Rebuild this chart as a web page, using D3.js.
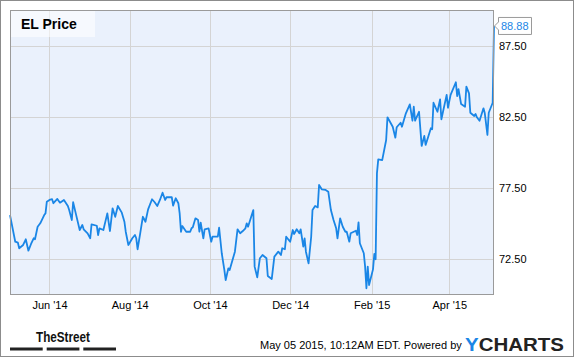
<!DOCTYPE html>
<html>
<head>
<meta charset="utf-8">
<script src="https://cdn.jsdelivr.net/npm/d3@7"></script>
<style>
  body { margin: 0; background: #fff; }
  text { font-family: Arial, "Liberation Sans", sans-serif; }
</style>
</head>
<body>
<svg id="chart" width="575" height="358"></svg>
<script>
// EL daily price
var dates = ["2014-05-02","2014-05-06","2014-05-08","2014-05-09","2014-05-12","2014-05-14","2014-05-16","2014-05-18","2014-05-20","2014-05-21",
  "2014-05-23","2014-05-25","2014-05-28","2014-05-29","2014-05-30","2014-06-01","2014-06-03","2014-06-04","2014-06-07","2014-06-09",
  "2014-06-12","2014-06-15","2014-06-16","2014-06-18","2014-06-19","2014-06-21","2014-06-24","2014-06-26","2014-06-27","2014-06-30",
  "2014-07-02","2014-07-03","2014-07-07","2014-07-08","2014-07-09","2014-07-12","2014-07-15","2014-07-17","2014-07-19","2014-07-21",
  "2014-07-23","2014-07-26","2014-07-28","2014-07-29","2014-07-31","2014-08-03","2014-08-05","2014-08-06","2014-08-07","2014-08-09",
  "2014-08-11","2014-08-13","2014-08-15","2014-08-18","2014-08-20","2014-08-22","2014-08-24","2014-08-26","2014-08-28","2014-08-29",
  "2014-09-02","2014-09-03","2014-09-05","2014-09-07","2014-09-08","2014-09-09","2014-09-10","2014-09-13","2014-09-16","2014-09-17",
  "2014-09-18","2014-09-20","2014-09-22","2014-09-23","2014-09-24","2014-09-26","2014-09-27","2014-09-30","2014-10-02","2014-10-03",
  "2014-10-07","2014-10-08","2014-10-10","2014-10-12","2014-10-13","2014-10-15","2014-10-16","2014-10-20","2014-10-22","2014-10-24",
  "2014-10-26","2014-10-28","2014-10-29","2014-10-30","2014-11-03","2014-11-04","2014-11-06","2014-11-08","2014-11-10","2014-11-13",
  "2014-11-14","2014-11-17","2014-11-19","2014-11-22","2014-11-24","2014-11-25","2014-11-27","2014-11-28","2014-12-01","2014-12-03",
  "2014-12-04","2014-12-06","2014-12-08","2014-12-09","2014-12-11","2014-12-12","2014-12-13","2014-12-15","2014-12-17","2014-12-18",
  "2014-12-20","2014-12-22","2014-12-23","2014-12-25","2014-12-28","2014-12-30","2015-01-01","2015-01-03","2015-01-05","2015-01-06",
  "2015-01-08","2015-01-10","2015-01-12","2015-01-13","2015-01-15","2015-01-16","2015-01-20","2015-01-21","2015-01-22","2015-01-23",
  "2015-01-26","2015-01-27","2015-01-28","2015-01-29","2015-01-30","2015-02-02","2015-02-03","2015-02-04","2015-02-05","2015-02-06",
  "2015-02-09","2015-02-12","2015-02-13","2015-02-17","2015-02-19","2015-02-20","2015-02-23","2015-02-24","2015-02-27","2015-03-02",
  "2015-03-04","2015-03-05","2015-03-06","2015-03-09","2015-03-11","2015-03-13","2015-03-14","2015-03-16","2015-03-18","2015-03-19",
  "2015-03-20","2015-03-23","2015-03-25","2015-03-26","2015-03-30","2015-03-31","2015-04-02","2015-04-06","2015-04-07","2015-04-08",
  "2015-04-10","2015-04-13","2015-04-14","2015-04-16","2015-04-17","2015-04-20","2015-04-21","2015-04-22","2015-04-24","2015-04-27",
  "2015-04-28","2015-04-30","2015-05-01","2015-05-04","2015-05-05"];
var prices = [75.61,73.74,73.67,73.28,73.51,73.91,73.11,73.58,73.98,73.91,
  74.79,75.03,75.61,75.73,76.55,76.67,76.72,76.44,76.74,76.48,
  76.67,76.25,75.96,75.26,76.51,75.73,74.56,74.91,74.61,74.33,
  73.98,74.96,74.86,74.21,74.68,74.56,75.73,74.49,76.08,75.49,
  76.25,75.78,75.14,74.44,73.51,73.98,74.21,73.98,73.21,74.33,
  75.49,75.14,76.01,76.72,76.51,76.25,76.67,77.18,76.67,76.86,
  76.86,76.27,76.79,76.44,75.73,74.44,74.84,74.44,74.44,74.68,
  74.75,75.38,75.26,74.44,75.07,73.98,74.61,74.68,73.74,74.09,
  74.09,74.72,72.93,71.75,71.05,71.87,71.75,73.04,74.61,74.33,
  74.49,74.68,75.03,74.79,75.96,71.99,71.24,72.58,72.81,72.58,
  71.33,71.12,72.69,73.04,72.81,73.28,73.21,74.09,73.74,74.56,
  74.28,74.61,74.33,74.61,73.39,73.98,73.04,72.22,74.09,75.96,
  76.25,76.15,77.72,77.42,77.37,77.25,75.96,75.26,74.68,73.98,
  75.38,74.79,74.44,74.44,73.74,74.33,74.51,74.21,75.10,73.63,
  72.93,71.99,70.47,71.99,70.70,71.80,72.88,72.51,78.54,79.52,
  79.47,80.88,82.47,81.81,81.04,81.77,82.09,81.81,82.75,83.38,
  82.23,83.21,82.23,82.86,80.46,81.16,80.53,81.11,81.70,81.63,
  83.49,82.86,83.73,82.33,84.04,83.14,84.04,84.93,83.96,84.44,
  83.40,83.21,84.62,84.15,82.79,82.56,82.70,82.47,82.23,83.10,
  82.75,81.23,82.79,83.49,88.88];

var yTicks = [72.5, 77.5, 82.5, 87.5];
var xStart = "2014-05-02", xEnd = "2015-05-05";
var title = "EL Price";
var lastLabel = "88.88";

var parse = d3.timeParse("%Y-%m-%d");
var data = dates.map(function(d, i) { return { date: parse(d), value: prices[i] }; });

var svg = d3.select("#chart");
// plot box (note: "top" is a reserved window global, so use pLeft/pTop/...)
var pLeft = 10, pTop = 10, pRight = 494, pBottom = 295;
var blue = "#1a86e6";

var x = d3.scaleTime()
  .domain([parse(xStart), parse(xEnd)])
  .range([pLeft, pRight]);
var y = d3.scaleLinear()
  .domain([70, 90])
  .range([pBottom, pTop]);

// outer frame
svg.append("rect")
  .attr("x", 0.5).attr("y", 0.5)
  .attr("width", 573).attr("height", 356)
  .attr("fill", "#fff").attr("stroke", "#8c8c8c");

// plot background
svg.append("rect")
  .attr("x", pLeft).attr("y", pTop)
  .attr("width", pRight - pLeft).attr("height", pBottom - pTop)
  .attr("fill", "#eaf1fc");

var monthTicks = d3.timeMonth.range(parse(xStart), parse(xEnd))
  .filter(function(d) { return d.getMonth() % 2 === 1; });

// grid lines
svg.append("g").selectAll("line")
  .data(monthTicks)
  .enter().append("line")
    .attr("x1", d => Math.round(x(d)) + 0.5).attr("x2", d => Math.round(x(d)) + 0.5)
    .attr("y1", pTop).attr("y2", pBottom)
    .attr("stroke", "#d4d4d4");
svg.append("g").selectAll("line")
  .data(yTicks)
  .enter().append("line")
    .attr("x1", pLeft).attr("x2", pRight)
    .attr("y1", d => Math.round(y(d)) + 0.5).attr("y2", d => Math.round(y(d)) + 0.5)
    .attr("stroke", "#d4d4d4");

// title box
svg.append("rect")
  .attr("x", pLeft).attr("y", pTop)
  .attr("width", 85).attr("height", 27)
  .attr("fill", "#fff").attr("fill-opacity", 0.55);
svg.append("text")
  .attr("x", 21).attr("y", 29)
  .attr("font-size", 14).attr("font-weight", "bold")
  .attr("fill", "#000")
  .text(title);

// price line
var line = d3.line()
  .x(d => x(d.date))
  .y(d => y(d.value));
svg.append("path")
  .datum(data)
  .attr("d", line)
  .attr("fill", "none")
  .attr("stroke", blue)
  .attr("stroke-width", 1.8)
  .attr("stroke-linejoin", "round");

// plot border
svg.append("rect")
  .attr("x", pLeft + 0.5).attr("y", pTop + 0.5)
  .attr("width", pRight - pLeft - 1).attr("height", pBottom - pTop - 1)
  .attr("fill", "none").attr("stroke", "#9a9a9a");

// axes
var xAxis = d3.axisBottom(x)
  .tickValues(monthTicks)
  .tickFormat(d3.timeFormat("%b '%y"))
  .tickSize(0).tickPadding(6);
var gx = svg.append("g")
  .attr("transform", "translate(0," + pBottom + ")")
  .call(xAxis);
gx.select(".domain").remove();
gx.selectAll("text")
  .attr("font-size", 11).attr("fill", "#000")
  .attr("font-family", "Arial, 'Liberation Sans', sans-serif");

var yAxis = d3.axisRight(y)
  .tickValues(yTicks)
  .tickFormat(d3.format(".2f"))
  .tickSize(0).tickPadding(5);
var gy = svg.append("g")
  .attr("transform", "translate(" + pRight + ",0)")
  .call(yAxis);
gy.select(".domain").remove();
gy.selectAll("text")
  .attr("font-size", 11).attr("fill", "#000")
  .attr("font-family", "Arial, 'Liberation Sans', sans-serif");

// last value flag
var last = data[data.length - 1];
var ly = y(last.value);
svg.append("path")
  .attr("d", "M" + (pRight + 0.5) + "," + ly +
    " L498.5," + (ly - 4) + " L498.5," + (ly - 8.5) + " L531.5," + (ly - 8.5) +
    " L531.5," + (ly + 8.5) + " L498.5," + (ly + 8.5) + " L498.5," + (ly + 4) + " Z")
  .attr("fill", "#fff").attr("stroke", "#9a9a9a");
svg.append("text")
  .attr("x", 501).attr("y", ly + 4)
  .attr("font-size", 11).attr("fill", blue)
  .text(lastLabel);

// footer
svg.append("text")
  .attr("x", 36).attr("y", 341.5)
  .attr("font-size", 15).attr("font-weight", "bold")
  .attr("font-family", "'Liberation Sans Narrow', 'Arial Narrow', sans-serif")
  .attr("textLength", 54).attr("lengthAdjust", "spacingAndGlyphs")
  .attr("fill", "#111")
  .text("TheStreet");
svg.append("g").selectAll("rect")
  .data([10, 46.7, 83.3])
  .enter().append("rect")
    .attr("x", d => d).attr("y", 347.5)
    .attr("width", 32.7).attr("height", 3)
    .attr("fill", "#222");

svg.append("text")
  .attr("x", 260).attr("y", 349)
  .attr("font-size", 11).attr("fill", "#000")
  .text("May 05 2015, 10:12AM EDT.  Powered by");

var yc = svg.append("text")
  .attr("x", 465).attr("y", 350.7)
  .attr("font-size", 19).attr("font-weight", "bold")
  .attr("textLength", 99).attr("lengthAdjust", "spacingAndGlyphs");
yc.append("tspan").attr("fill", blue).text("Y");
yc.append("tspan").attr("fill", "#222").text("CHARTS");
</script>
</body>
</html>
